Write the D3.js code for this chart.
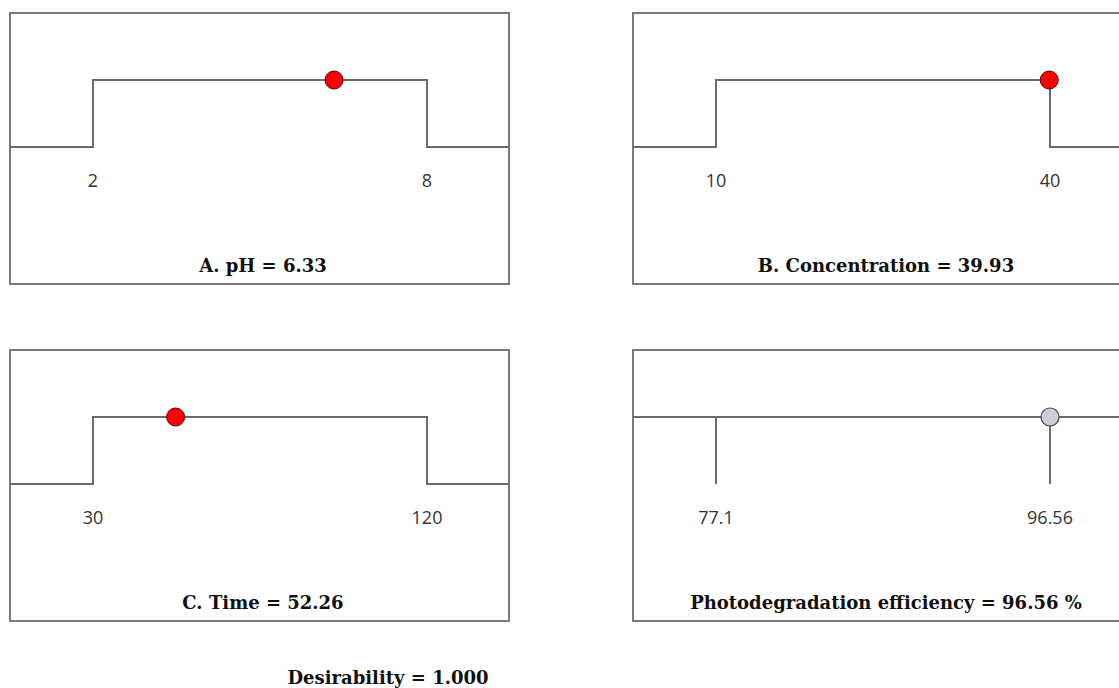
<!DOCTYPE html>
<html>
<head>
<meta charset="utf-8">
<script src="https://cdn.jsdelivr.net/npm/d3@7"></script>
<style>
  html, body { margin: 0; padding: 0; background: #fff; }
  svg { display: block; }
</style>
</head>
<body>
<svg id="chart" width="1119" height="688"></svg>
<script>
// Factor ramps: name, lower limit, upper limit, optimum setting
const factorNames = ["A. pH", "B. Concentration", "C. Time"];
const factorLow = [2, 10, 30];
const factorHigh = [8, 40, 120];
const factorTickLabels = [["2", "8"], ["10", "40"], ["30", "120"]];
const factorSettings = [6.33, 39.93, 52.26];

// Response ramp
const responseName = "Photodegradation efficiency";
const responseLow = 77.1;
const responseHigh = 96.56;
const responseTickLabels = ["77.1", "96.56"];
const responseValue = 96.56;
const responseUnit = "%";

const desirability = 1.000;

const svg = d3.select("#chart");

// panel geometry
const panelW = 499, panelH = 271;
const panelOrigins = [[10, 13], [633, 13], [10, 350], [633, 350]];
const rampLeft = 83, rampRight = 417;
const yHigh = 67, yLow = 134, yTick = 169, yTitle = 259;

const lineColor = "#6b6b6b";
const fmt2 = d3.format(".2f");

function panel(i) {
  const [px, py] = panelOrigins[i];
  const g = svg.append("g").attr("transform", `translate(${px},${py})`);
  g.append("rect")
    .attr("x", 0).attr("y", 0)
    .attr("width", panelW).attr("height", panelH)
    .attr("fill", "none")
    .attr("stroke", "#7a7a7a")
    .attr("stroke-width", 2);
  return g;
}

function tickLabels(g, x, lo, hi, labels) {
  g.selectAll("text.tick")
    .data([lo, hi])
    .join("text")
    .attr("class", "tick")
    .attr("x", d => x(d))
    .attr("y", yTick)
    .attr("text-anchor", "middle")
    .attr("dominant-baseline", "middle")
    .attr("font-family", "'Open Sans', 'Noto Sans', sans-serif")
    .attr("font-size", 18)
    .attr("fill", "#333")
    .text((d, j) => labels[j]);
}

function title(g, text) {
  g.append("text")
    .attr("x", (rampLeft + rampRight) / 2 + 3)
    .attr("y", yTitle)
    .attr("text-anchor", "middle")
    .attr("font-family", "'DejaVu Serif', serif")
    .attr("font-weight", "bold")
    .attr("font-size", 18)
    .attr("fill", "#111")
    .text(text);
}

// factor panels: step-shaped "in range" ramp
factorNames.forEach((name, i) => {
  const g = panel(i);
  const x = d3.scaleLinear()
    .domain([factorLow[i], factorHigh[i]])
    .range([rampLeft, rampRight]);
  const xMin = x.invert(0), xMax = x.invert(panelW);
  const pts = [
    [xMin, 0], [factorLow[i], 0], [factorLow[i], 1],
    [factorHigh[i], 1], [factorHigh[i], 0], [xMax, 0]
  ];
  const y = d3.scaleLinear().domain([0, 1]).range([yLow, yHigh]);
  g.append("path")
    .attr("d", d3.line().x(d => x(d[0])).y(d => y(d[1]))(pts))
    .attr("fill", "none")
    .attr("stroke", lineColor)
    .attr("stroke-width", 2);
  g.append("circle")
    .attr("cx", x(factorSettings[i]))
    .attr("cy", y(1))
    .attr("r", 9)
    .attr("fill", "#ff0000")
    .attr("stroke", "#5a0000")
    .attr("stroke-width", 1);
  tickLabels(g, x, factorLow[i], factorHigh[i], factorTickLabels[i]);
  title(g, `${name} = ${fmt2(factorSettings[i])}`);
});

// response panel
{
  const g = panel(3);
  const x = d3.scaleLinear()
    .domain([responseLow, responseHigh])
    .range([rampLeft, rampRight]);
  g.append("line")
    .attr("x1", 0).attr("x2", panelW)
    .attr("y1", yHigh).attr("y2", yHigh)
    .attr("stroke", lineColor).attr("stroke-width", 2);
  g.selectAll("line.limit")
    .data([responseLow, responseHigh])
    .join("line")
    .attr("class", "limit")
    .attr("x1", d => x(d)).attr("x2", d => x(d))
    .attr("y1", yHigh).attr("y2", yLow)
    .attr("stroke", lineColor).attr("stroke-width", 2);
  g.append("circle")
    .attr("cx", x(responseValue))
    .attr("cy", yHigh)
    .attr("r", 9)
    .attr("fill", "#c9ced9")
    .attr("stroke", "#444")
    .attr("stroke-width", 1.2);
  tickLabels(g, x, responseLow, responseHigh, responseTickLabels);
  title(g, `${responseName} = ${fmt2(responseValue)} ${responseUnit}`);
}

// overall desirability
svg.append("text")
  .attr("x", 388)
  .attr("y", 684)
  .attr("text-anchor", "middle")
  .attr("font-family", "'DejaVu Serif', serif")
  .attr("font-weight", "bold")
  .attr("font-size", 18)
  .attr("fill", "#111")
  .text(`Desirability = ${d3.format(".3f")(desirability)}`);
</script>
</body>
</html>
